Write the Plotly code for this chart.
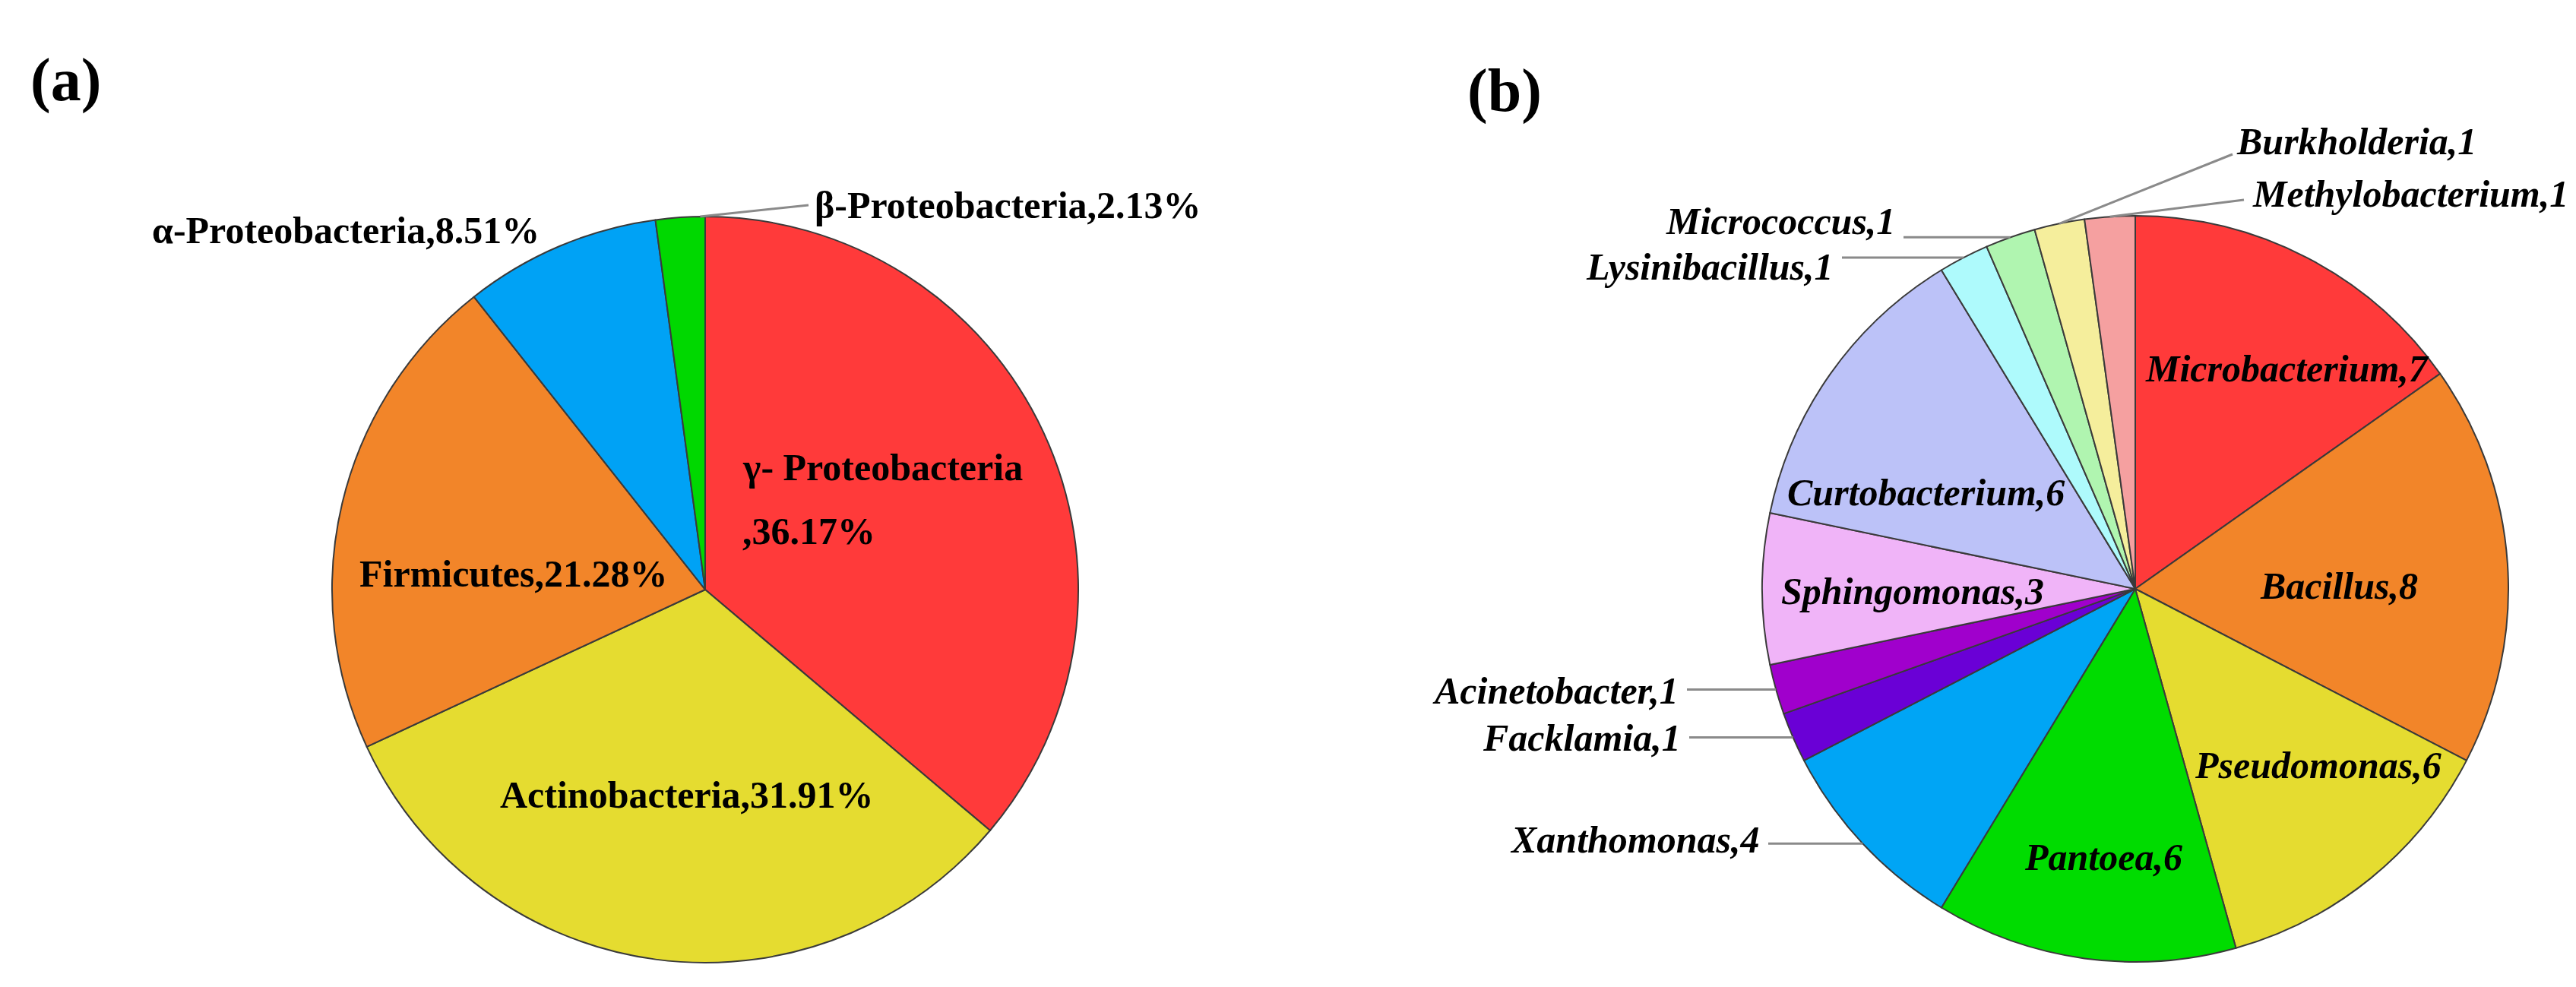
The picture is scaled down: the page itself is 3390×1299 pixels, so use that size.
import math
import plotly.graph_objects as go

W, H = 3390, 1299

# ---------------- data ----------------
phyla = ["γ- Proteobacteria", "Actinobacteria", "Firmicutes", "α-Proteobacteria", "β-Proteobacteria"]
phyla_pct = [36.17, 31.91, 21.28, 8.51, 2.13]
phyla_colors = ["#FF3A3A", "#E5DC30", "#F28529", "#00A2F5", "#00D800"]

genera = ["Microbacterium", "Bacillus", "Pseudomonas", "Pantoea", "Xanthomonas",
          "Facklamia", "Acinetobacter", "Sphingomonas", "Curtobacterium",
          "Lysinibacillus", "Micrococcus", "Burkholderia", "Methylobacterium"]
genera_counts = [7, 8, 6, 6, 4, 1, 1, 3, 6, 1, 1, 1, 1]
genera_colors = ["#FF3A3A", "#F28529", "#E5DC30", "#00DC00", "#00A5F5",
                 "#6A00D6", "#A000CC", "#F0B4F8", "#BCC2F8",
                 "#AEFAFC", "#B0F5B0", "#F5EE9C", "#F5A0A0"]

panel_labels = ["(a)", "(b)"]

# ---------------- layout geometry (pixels) ----------------
A_CX, A_CY, A_R = 920, 768, 491
B_CX, B_CY, B_R = 2802, 767, 491


def domain(cx, cy, r):
    return dict(x=[(cx - r) / W, (cx + r) / W],
                y=[1 - (cy + r) / H, 1 - (cy - r) / H])


def px(x):
    return x / W


def py(y):
    return 1 - y / H


def arc_point(cx, cy, r, values, i, frac=0.5):
    tot = float(sum(values))
    start = sum(values[:i]) / tot
    theta = 2 * math.pi * (start + frac * values[i] / tot)
    return cx + r * math.sin(theta), cy - r * math.cos(theta)


FONT = "Liberation Serif, Times New Roman, serif"
LINE_COLOR = "#8a8a8a"

fig = go.Figure()

fig.add_trace(go.Pie(
    labels=phyla, values=phyla_pct, sort=False, direction="clockwise", rotation=0,
    marker=dict(colors=phyla_colors, line=dict(color="#3a3a3a", width=2)),
    textinfo="none", hoverinfo="label+percent", showlegend=False,
    domain=domain(A_CX, A_CY, A_R)))

fig.add_trace(go.Pie(
    labels=genera, values=genera_counts, sort=False, direction="clockwise", rotation=0,
    marker=dict(colors=genera_colors, line=dict(color="#3a3a3a", width=2)),
    textinfo="none", hoverinfo="label+value", showlegend=False,
    domain=domain(B_CX, B_CY, B_R)))

annotations = []
shapes = []


def add_text(text, x, y, anchor, size=50):
    annotations.append(dict(
        text=text, x=px(x), y=py(y), xref="paper", yref="paper",
        xanchor=anchor, yanchor="middle", showarrow=False, borderpad=0,
        font=dict(family=FONT, size=size, color="black")))


def add_line(x0, y0, x1, y1):
    shapes.append(dict(type="line", xref="paper", yref="paper",
                       x0=px(x0), y0=py(y0), x1=px(x1), y1=py(y1),
                       line=dict(color=LINE_COLOR, width=3)))


# panel labels
add_text("<b>%s</b>" % panel_labels[0], 78, 98, "center", size=80)
add_text("<b>%s</b>" % panel_labels[1], 1972, 112, "center", size=80)

# ---------- pie (a) labels ----------
def lab_a(i):
    return "<b>%s,%.2f%%</b>" % (phyla[i], phyla_pct[i])

add_text("<b>%s</b>" % phyla[0], 968, 607, "left")
add_text("<b>,%.2f%%</b>" % phyla_pct[0], 968, 691, "left")
add_text(lab_a(1), 896, 1038, "center")
add_text(lab_a(2), 667, 747, "center")
add_text(lab_a(3), 703, 295, "right")
add_text(lab_a(4), 1063, 262, "left")
bx, by = arc_point(A_CX, A_CY, A_R, phyla_pct, 4, 0.9)
add_line(bx, by, 1056, 262)

# ---------- pie (b) labels ----------
def lab_b(i):
    return "<b><i>%s,%d</i></b>" % (genera[i], genera_counts[i])

# inside labels: (index, x, y, anchor)
inside_b = [(0, 2814, 477, "left"), (1, 3070, 763, "center"), (2, 2879, 999, "left"),
            (3, 2760, 1120, "center"), (7, 2335, 770, "left"), (8, 2343, 640, "left")]
for i, x, y, anc in inside_b:
    add_text(lab_b(i), x, y, anc)

# outside left labels with horizontal leaders: (index, label right x, label y)
left_b = [(4, 2309, 1097), (5, 2205, 963), (6, 2202, 901), (9, 2406, 343), (10, 2487, 283)]
for i, x, y in left_b:
    add_text(lab_b(i), x, y, "right")
    ax, ay = arc_point(B_CX, B_CY, B_R, genera_counts, i)
    add_line(x + 10, ay, ax, ay)

# outside top-right labels with slanted leaders
ax, ay = arc_point(B_CX, B_CY, B_R, genera_counts, 11)
add_text(lab_b(11), 2934, 178, "left")
add_line(ax, ay, 2930, 195)

ax, ay = arc_point(B_CX, B_CY, B_R, genera_counts, 12)
add_text(lab_b(12), 2955, 247, "left")
add_line(ax, ay, 2945, 255)

fig.update_layout(
    width=W, height=H, margin=dict(l=0, r=0, t=0, b=0),
    paper_bgcolor="white", plot_bgcolor="white",
    annotations=annotations, shapes=shapes)

fig.write_html("out.html")
